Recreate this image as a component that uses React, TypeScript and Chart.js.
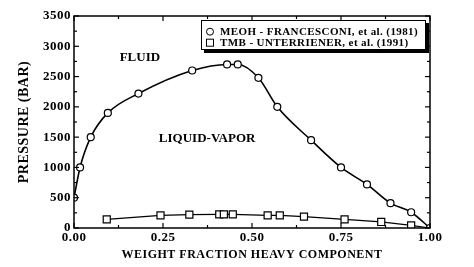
import React, { useEffect, useRef } from 'react';
import { Chart, registerables } from 'chart.js';

Chart.register(...registerables);

// ---- data ----
const meohX = [0.0, 0.017, 0.047, 0.095, 0.181, 0.332, 0.43, 0.46, 0.518, 0.571, 0.666, 0.75, 0.823, 0.889, 0.947, 1.0];
const meohY = [500, 1000, 1500, 1900, 2220, 2600, 2700, 2700, 2480, 2000, 1450, 1000, 720, 410, 260, 0];
const tmbX = [0.092, 0.243, 0.324, 0.408, 0.421, 0.446, 0.544, 0.578, 0.646, 0.76, 0.863, 0.947, 1.0];
const tmbY = [143, 209, 220, 226, 226, 226, 209, 209, 187, 143, 100, 44, 0];
const tmbMarkerShown = [1, 1, 1, 1, 1, 1, 1, 1, 1, 1, 1, 1, 0];
const seriesLabels = ['MEOH - FRANCESCONI, et al. (1981)', 'TMB - UNTERRIENER, et al. (1991)'];
const xTicks = [0, 0.25, 0.5, 0.75, 1.0];
const yTicks = [0, 500, 1000, 1500, 2000, 2500, 3000, 3500];
const xMinorStep = 0.125;
const yMinorStep = 250;
const regionLabels = ['FLUID', 'LIQUID-VAPOR'];
const regionX = [0.185, 0.374];
const regionY = [2805, 1470];
const xTitle = 'WEIGHT FRACTION HEAVY COMPONENT';
const yTitle = 'PRESSURE (BAR)';

const SERIF = "'Liberation Serif', 'DejaVu Serif', serif";

const decorPlugin = {
  id: 'decor',
  beforeDraw(chart: any) {
    chart.ctx.letterSpacing = '0.5px';
  },
  beforeDatasetsDraw(chart: any) {
    chart.ctx.letterSpacing = '0px';
  },
  afterDraw(chart: any) {
    const { ctx, chartArea: a, scales } = chart;
    const xs = scales.x;
    const ys = scales.y;
    const line = (x1: number, y1: number, x2: number, y2: number) => {
      ctx.beginPath();
      ctx.moveTo(x1, y1);
      ctx.lineTo(x2, y2);
      ctx.stroke();
    };
    ctx.save();
    ctx.letterSpacing = '0px';
    ctx.strokeStyle = '#000';
    ctx.lineWidth = 1.5;
    ctx.strokeRect(a.left, a.top, a.right - a.left, a.bottom - a.top);
    ctx.lineWidth = 1.2;
    const xMin = xTicks[0], xMax = xTicks[xTicks.length - 1];
    for (let i = 0; xMin + i * xMinorStep <= xMax + 1e-9; i++) {
      const v = xMin + i * xMinorStep;
      const major = xTicks.some((t) => Math.abs(t - v) < 1e-9);
      const L = major ? 5 : 3;
      const px = xs.getPixelForValue(v);
      line(px, a.bottom, px, a.bottom - L);
      line(px, a.top, px, a.top + L);
    }
    const yMin = yTicks[0], yMax = yTicks[yTicks.length - 1];
    for (let i = 0; yMin + i * yMinorStep <= yMax + 1e-9; i++) {
      const v = yMin + i * yMinorStep;
      const major = yTicks.some((t) => Math.abs(t - v) < 1e-9);
      const L = major ? 5 : 3;
      const py = ys.getPixelForValue(v);
      line(a.left, py, a.left + L, py);
      line(a.right, py, a.right - L, py);
    }

    // region labels
    ctx.fillStyle = '#000';
    ctx.font = `bold 13px ${SERIF}`;
    ctx.textAlign = 'center';
    ctx.textBaseline = 'middle';
    regionLabels.forEach((t, i) => {
      ctx.fillText(t, xs.getPixelForValue(regionX[i]), ys.getPixelForValue(regionY[i]));
    });

    // legend box
    const bx = 201, by = 20, bw = 225, bh = 30;
    ctx.fillStyle = '#000';
    ctx.fillRect(bx + 3, by + 3, bw, bh);
    ctx.fillStyle = '#fff';
    ctx.fillRect(bx, by, bw, bh);
    ctx.lineWidth = 1;
    ctx.strokeStyle = '#000';
    ctx.strokeRect(bx + 0.5, by + 0.5, bw - 1, bh - 1);
    ctx.font = `bold 11px ${SERIF}`;
    ctx.letterSpacing = '0.4px';
    ctx.textAlign = 'left';
    ctx.fillStyle = '#000';
    chart.data.datasets.forEach((ds: any, i: number) => {
      const cy = by + 11.7 + i * 11;
      ctx.lineWidth = 1;
      if (ds.pointStyle === 'circle') {
        ctx.beginPath();
        ctx.arc(bx + 9, cy, 3.5, 0, Math.PI * 2);
        ctx.stroke();
      } else {
        ctx.strokeRect(bx + 5.5, cy - 3.5, 7, 7);
      }
      ctx.fillText(ds.label, bx + 19, cy + 0.5);
    });
    ctx.restore();
  },
};

export default function App() {
  const ref = useRef<HTMLCanvasElement | null>(null);
  useEffect(() => {
    if (!ref.current) return;
    Chart.defaults.color = '#000';
    const chart = new Chart(ref.current, {
      type: 'scatter',
      data: {
        datasets: [
          {
            label: seriesLabels[0],
            data: meohX.map((x, i) => ({ x, y: meohY[i] })),
            showLine: true,
            borderColor: '#000',
            borderWidth: 1.6,
            cubicInterpolationMode: 'monotone',
            pointStyle: 'circle',
            pointRadius: 3.5,
            pointBackgroundColor: '#fff',
            pointBorderColor: '#000',
            pointBorderWidth: 1.2,
          },
          {
            label: seriesLabels[1],
            data: tmbX.map((x, i) => ({ x, y: tmbY[i] })),
            showLine: true,
            borderColor: '#000',
            borderWidth: 1.2,
            pointStyle: 'rect',
            pointRadius: tmbMarkerShown.map((s) => (s ? 5 : 0)),
            pointBackgroundColor: '#fff',
            pointBorderColor: '#000',
            pointBorderWidth: 1.2,
          },
        ],
      },
      options: {
        animation: false,
        responsive: false,
        devicePixelRatio: 1,
        layout: { padding: { top: 16, right: 44, left: 0, bottom: 0 } },
        plugins: { legend: { display: false }, tooltip: { enabled: false } },
        scales: {
          x: {
            type: 'linear',
            min: 0,
            max: 1,
            grid: { display: false, drawTicks: false },
            border: { display: false },
            afterBuildTicks: (s: any) => {
              s.ticks = xTicks.map((v) => ({ value: v }));
            },
            afterFit: (s: any) => {
              s.height = 39;
            },
            ticks: {
              padding: 2,
              maxRotation: 0,
              autoSkip: false,
              font: { family: SERIF, size: 13, weight: 'bold' },
              color: '#000',
              callback: (v: any) => Number(v).toFixed(2),
            },
            title: {
              display: true,
              text: xTitle,
              color: '#000',
              font: { family: SERIF, size: 12, weight: 'bold' },
              padding: { top: 0, bottom: 5 },
            },
          },
          y: {
            type: 'linear',
            min: 0,
            max: 3500,
            grid: { display: false, drawTicks: false },
            border: { display: false },
            afterBuildTicks: (s: any) => {
              s.ticks = yTicks.map((v) => ({ value: v }));
            },
            afterFit: (s: any) => {
              s.width = 74;
            },
            ticks: {
              padding: 3,
              autoSkip: false,
              font: { family: SERIF, size: 13, weight: 'bold' },
              color: '#000',
              callback: (v: any) => String(v),
            },
            title: {
              display: true,
              text: yTitle,
              color: '#000',
              font: { family: SERIF, size: 14, weight: 'bold' },
              padding: { top: 16, bottom: 0 },
            },
          },
        },
      },
      plugins: [decorPlugin],
    } as any);
    return () => chart.destroy();
  }, []);
  return (
    <div style={{ position: 'absolute', left: 0, top: 0, width: 474, height: 267, background: '#fff' }}>
      <canvas ref={ref} width={474} height={267} style={{ display: 'block' }} />
    </div>
  );
}
